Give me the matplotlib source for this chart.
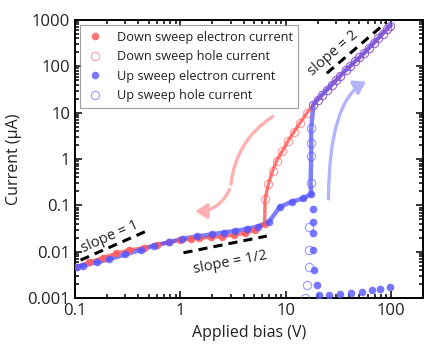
import matplotlib
matplotlib.use("Agg")
import matplotlib.pyplot as plt
from matplotlib.patches import FancyArrowPatch
from matplotlib.ticker import FixedLocator, FixedFormatter, LogLocator, NullFormatter

plt.rcParams["font.family"] = ["Open Sans", "DejaVu Sans"]

# down sweep, electron current (low branch)
down_e_v = [0.102, 0.135, 0.183, 0.245, 0.327, 0.454, 0.6, 0.78, 1.0, 1.25, 1.49, 1.95, 2.48, 3.2, 4.1, 5.1, 6.3]
down_e_i = [0.0047, 0.0059, 0.0075, 0.0092, 0.011, 0.0122, 0.0142, 0.0164, 0.018, 0.0188, 0.0195, 0.0205, 0.021, 0.023, 0.025, 0.029, 0.040]

# down sweep, hole current (upper branch)
down_h_v = [98, 91, 83, 75, 68, 61, 55, 50, 45.5, 41, 37, 33, 30, 27.2, 24.5, 22, 20, 18.3,
            15.8, 13.7, 12.0, 10.5, 9.3, 8.2, 7.5, 6.85, 6.36]
down_h_i = [760, 635, 509, 399, 316, 244, 190, 156, 128, 102, 82, 63, 50, 40, 31, 24, 19, 15,
            9.7, 6.1, 3.9, 2.45, 1.5, 0.92, 0.56, 0.29, 0.137]

# up sweep, electron current
up_e_v = [0.105, 0.118, 0.16, 0.211, 0.30, 0.42, 0.56, 0.78, 1.04, 1.44, 1.99, 2.57, 3.3, 4.27, 5.4,
          6.9, 8.8, 11.4, 14.7, 17.4,
          18.0, 18.2, 18.2, 18.3, 18.4, 19.6, 20.8, 25.7, 32.6, 41.4, 52.4, 65.6, 79, 98.3]
up_e_i = [0.0048, 0.005, 0.0059, 0.0069, 0.0088, 0.0109, 0.0135, 0.016, 0.019, 0.0215, 0.0237, 0.026, 0.028, 0.031, 0.035,
          0.044, 0.093, 0.12, 0.142, 0.176,
          0.082, 0.044, 0.026, 0.011, 0.0040, 0.00189, 0.00117, 0.00114, 0.00122, 0.00127, 0.00137, 0.00146, 0.00154, 0.0017]

# up sweep, hole current
up_h_v = [15.3, 16.0, 16.5, 16.5, 16.7, 17.2, 17.4, 17.4, 17.4, 18.3, 20, 22, 24.5, 27.2, 30, 33, 37, 41,
          45.5, 50, 55, 61, 68, 75, 83, 91, 98]
up_h_i = [0.001, 0.0019, 0.0046, 0.011, 0.035, 0.30, 1.16, 2.2, 4.6, 15, 19, 24, 31, 40, 50, 63, 82, 102,
          128, 156, 190, 244, 316, 399, 509, 635, 760]

red = "#ff5c5c"
blue = "#5555ff"
text_col = "#222222"

fig = plt.figure(figsize=(4.36, 3.57), dpi=100)
ax = fig.add_axes([0.172, 0.165, 0.798, 0.779])

# connecting lines
red_line_v = down_h_v + down_e_v[::-1]
red_line_i = down_h_i + down_e_i[::-1]
ax.plot(red_line_v, red_line_i, color=red, lw=2.4, alpha=0.85, zorder=2)

n_low = up_e_v.index(17.4) + 1
k = up_h_i.index(0.30)
blue_line_v = up_e_v[:n_low] + up_h_v[k:]
blue_line_i = up_e_i[:n_low] + up_h_i[k:]
ax.plot(blue_line_v, blue_line_i, color=blue, lw=3.2, alpha=0.75, zorder=3)

ax.plot(down_e_v, down_e_i, "o", ms=5.5, color=red, mec="none", alpha=0.85, zorder=4,
        label="Down sweep electron current")
ax.plot(down_h_v, down_h_i, "o", ms=6, mfc="none", mec=red, mew=0.8, alpha=0.6, zorder=4,
        label="Down sweep hole current")
ax.plot(up_e_v, up_e_i, "o", ms=5.5, color=blue, mec="none", alpha=0.8, zorder=5,
        label="Up sweep electron current")
ax.plot(up_h_v, up_h_i, "o", ms=6, mfc="none", mec=blue, mew=0.8, alpha=0.6, zorder=5,
        label="Up sweep hole current")

# slope guides
ax.plot([0.113, 0.52], [0.0066, 0.0305], "--", color="black", lw=2.2, dashes=(3, 2))
ax.plot([1.07, 6.6], [0.0095, 0.0218], "--", color="black", lw=2.2, dashes=(3, 2))
ax.plot([24.5, 90], [71, 892], "--", color="black", lw=2.2, dashes=(3, 2))
ax.text(0.215, 0.021, "slope = 1", fontsize=10.5, rotation=24, ha="center", va="center", color=text_col)
ax.text(2.95, 0.0058, "slope = 1/2", fontsize=10.5, rotation=11, ha="center", va="center", color=text_col)
ax.text(28, 190, "slope = 2", fontsize=10.5, rotation=41, ha="center", va="center", color=text_col)

# sweep direction arrows
ax.add_patch(FancyArrowPatch((7.9, 8.9), (3.0, 0.25), connectionstyle="arc3,rad=0.25",
                             arrowstyle="-", color="#ffb0b0", lw=2.4))
ax.add_patch(FancyArrowPatch((3.0, 0.25), (1.3, 0.075), connectionstyle="arc3,rad=-0.35",
                             arrowstyle="-|>,head_length=7,head_width=4.5", color="#ffb0b0", lw=2.4,
                             mutation_scale=1))
ax.add_patch(FancyArrowPatch((25.4, 0.12), (61, 50), connectionstyle="angle3,angleA=90,angleB=25",
                             arrowstyle="-|>,head_length=7,head_width=4.5", color="#b4b4ff", lw=2.4,
                             mutation_scale=1))

ax.set_xscale("log")
ax.set_yscale("log")
ax.set_xlim(0.1, 200)
ax.set_ylim(0.001, 1000)

ax.xaxis.set_major_locator(FixedLocator([0.1, 1, 10, 100]))
ax.xaxis.set_major_formatter(FixedFormatter(["0.1", "1", "10", "100"]))
ax.yaxis.set_major_locator(FixedLocator([0.001, 0.01, 0.1, 1, 10, 100, 1000]))
ax.yaxis.set_major_formatter(FixedFormatter(["0.001", "0.01", "0.1", "1", "10", "100", "1000"]))
ax.xaxis.set_minor_locator(LogLocator(subs=range(2, 10)))
ax.yaxis.set_minor_locator(LogLocator(subs=range(2, 10)))
ax.xaxis.set_minor_formatter(NullFormatter())
ax.yaxis.set_minor_formatter(NullFormatter())
ax.tick_params(which="both", direction="in", top=True, right=True, labelsize=12,
               width=1.1, labelcolor=text_col)
ax.tick_params(which="major", length=5)
ax.tick_params(which="minor", length=3)
for s in ax.spines.values():
    s.set_linewidth(1.4)

ax.set_xlabel("Applied bias (V)", fontsize=11.5, color=text_col)
ax.set_ylabel("Current (μA)", fontsize=11.5, color=text_col)

leg = ax.legend(loc="upper left", fontsize=9.2, frameon=True, fancybox=False,
                handletextpad=1.0, borderpad=0.45, labelspacing=0.5, handlelength=1.4,
                borderaxespad=0.4)
leg.get_frame().set_edgecolor("#888888")
leg.get_frame().set_linewidth(0.8)
for t in leg.get_texts():
    t.set_color(text_col)

fig.savefig("out.png", dpi=100)
